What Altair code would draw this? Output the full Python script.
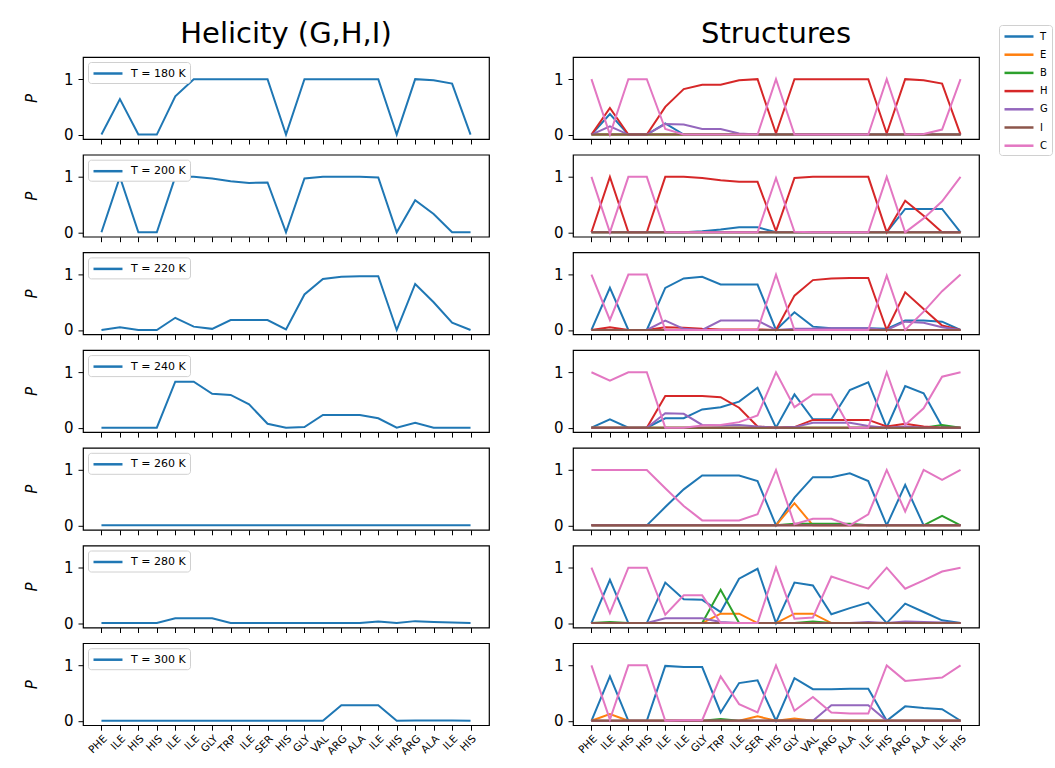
import altair as alt
import pandas as pd

residues = ["PHE", "ILE", "HIS", "HIS", "ILE", "ILE", "GLY", "TRP", "ILE", "SER", "HIS",
            "GLY", "VAL", "ARG", "ALA", "ILE", "HIS", "ARG", "ALA", "ILE", "HIS"]
temps = [180, 200, 220, 240, 260, 280, 300]
states = ["T", "E", "B", "H", "G", "I", "C"]
state_colors = ["#1f77b4", "#ff7f0e", "#2ca02c", "#d62728", "#9467bd", "#8c564b", "#e377c2"]

# Helicity (G+H+I) per residue, one list per temperature
hel_180 = [0, 0.64, 0, 0, 0.69, 1, 1, 1, 1, 1, 0, 1, 1, 1, 1, 1, 0, 1, 0.98, 0.92, 0]
hel_200 = [0, 1, 0, 0, 1, 1, 0.97, 0.92, 0.89, 0.9, 0, 0.97, 1, 1, 1, 0.99, 0, 0.58, 0.33, 0, 0]
hel_220 = [0, 0.05, 0, 0, 0.22, 0.06, 0.02, 0.18, 0.18, 0.18, 0.01, 0.64, 0.92, 0.96, 0.97, 0.97, 0, 0.83, 0.5, 0.13, 0]
hel_240 = [0, 0, 0, 0, 0.83, 0.83, 0.61, 0.59, 0.42, 0.07, 0, 0.01, 0.23, 0.23, 0.23, 0.17, 0, 0.09, 0, 0, 0]
hel_260 = [0, 0, 0, 0, 0, 0, 0, 0, 0, 0, 0, 0, 0, 0, 0, 0, 0, 0, 0, 0, 0]
hel_280 = [0, 0, 0, 0, 0.085, 0.085, 0.085, 0, 0, 0, 0, 0, 0, 0, 0, 0.03, 0, 0.035, 0.02, 0.01, 0]
hel_300 = [0, 0, 0, 0, 0, 0, 0, 0, 0, 0, 0, 0, 0, 0.28, 0.28, 0.28, 0, 0.005, 0.005, 0.005, 0]
helicity = [hel_180, hel_200, hel_220, hel_240, hel_260, hel_280, hel_300]

zero = [0, 0, 0, 0, 0, 0, 0, 0, 0, 0, 0, 0, 0, 0, 0, 0, 0, 0, 0, 0, 0]

# Secondary-structure probabilities per temperature
s180 = {
    "T": [0, 0.37, 0, 0, 0.2, 0, 0, 0, 0, 0, 0, 0, 0, 0, 0, 0, 0, 0, 0, 0, 0],
    "E": zero,
    "B": zero,
    "H": [0, 0.48, 0, 0, 0.5, 0.82, 0.9, 0.9, 0.98, 1, 0.02, 1, 1, 1, 1, 1, 0.02, 1, 0.98, 0.92, 0],
    "G": [0, 0.15, 0, 0, 0.19, 0.18, 0.1, 0.1, 0.02, 0, 0, 0, 0, 0, 0, 0, 0, 0, 0, 0, 0],
    "I": zero,
    "C": [1, 0, 1, 1, 0.1, 0, 0, 0, 0, 0, 1, 0, 0, 0, 0, 0, 1, 0, 0.01, 0.09, 1],
}
s200 = {
    "T": [0, 0, 0, 0, 0, 0, 0.02, 0.05, 0.09, 0.09, 0, 0, 0, 0, 0, 0, 0, 0.42, 0.42, 0.42, 0],
    "E": zero,
    "B": zero,
    "H": [0, 1, 0, 0, 1, 1, 0.98, 0.94, 0.91, 0.91, 0.02, 0.98, 1, 1, 1, 1, 0, 0.57, 0.3, 0, 0],
    "G": zero,
    "I": zero,
    "C": [1, 0, 1, 1, 0, 0, 0, 0, 0, 0, 0.98, 0.01, 0, 0, 0, 0, 1, 0, 0.25, 0.56, 1],
}
s220 = {
    "T": [0, 0.76, 0, 0, 0.76, 0.93, 0.96, 0.82, 0.82, 0.82, 0, 0.32, 0.06, 0.03, 0.03, 0.03, 0.02, 0.17, 0.17, 0.15, 0],
    "E": zero,
    "B": zero,
    "H": [0, 0.05, 0, 0, 0.05, 0.04, 0.02, 0.01, 0.01, 0.01, 0, 0.62, 0.9, 0.93, 0.94, 0.94, 0, 0.68, 0.38, 0.08, 0],
    "G": [0, 0, 0, 0, 0.17, 0.02, 0, 0.17, 0.17, 0.17, 0, 0.02, 0.02, 0.03, 0.03, 0.03, 0, 0.15, 0.13, 0.05, 0],
    "I": zero,
    "C": [1, 0.18, 1, 1, 0, 0, 0, 0, 0, 0, 1, 0, 0, 0, 0, 0, 0.98, 0, 0.33, 0.7, 1],
}
s240 = {
    "T": [0, 0.15, 0, 0, 0.17, 0.17, 0.33, 0.37, 0.47, 0.72, 0, 0.6, 0.15, 0.15, 0.68, 0.82, 0, 0.75, 0.62, 0.02, 0],
    "E": zero,
    "B": [0, 0, 0, 0, 0, 0, 0, 0, 0, 0, 0, 0, 0, 0, 0, 0, 0, 0, 0, 0.05, 0],
    "H": [0, 0, 0, 0, 0.57, 0.57, 0.57, 0.55, 0.36, 0.02, 0, 0.01, 0.14, 0.14, 0.14, 0.14, 0.02, 0.07, 0.02, 0, 0],
    "G": [0, 0, 0, 0, 0.26, 0.25, 0.05, 0.04, 0.05, 0.02, 0, 0.01, 0.09, 0.09, 0.09, 0.03, 0, 0.02, 0, 0, 0],
    "I": zero,
    "C": [1, 0.85, 1, 1, 0, 0, 0.04, 0.05, 0.1, 0.22, 1, 0.37, 0.6, 0.6, 0, 0, 1, 0.05, 0.35, 0.92, 1],
}
s260 = {
    "T": [0, 0, 0, 0, 0.33, 0.65, 0.9, 0.9, 0.9, 0.8, 0, 0.5, 0.87, 0.87, 0.94, 0.8, 0, 0.73, 0, 0, 0],
    "E": [0, 0, 0, 0, 0, 0, 0, 0, 0, 0, 0, 0.4, 0, 0, 0, 0, 0, 0, 0, 0, 0],
    "B": [0, 0, 0, 0, 0, 0, 0, 0, 0, 0, 0, 0.03, 0.03, 0.03, 0.03, 0, 0, 0, 0, 0.17, 0],
    "H": zero,
    "G": zero,
    "I": zero,
    "C": [1, 1, 1, 1, 0.67, 0.35, 0.09, 0.09, 0.09, 0.2, 1, 0.02, 0.12, 0.12, 0, 0.2, 1, 0.25, 1, 0.82, 1],
}
s280 = {
    "T": [0, 0.78, 0, 0, 0.73, 0.43, 0.42, 0.2, 0.8, 0.98, 0, 0.73, 0.68, 0.16, 0.27, 0.37, 0, 0.35, 0.2, 0.05, 0],
    "E": [0, 0, 0, 0, 0, 0, 0, 0.17, 0.17, 0, 0, 0.17, 0.17, 0, 0, 0, 0, 0, 0, 0, 0],
    "B": [0, 0.02, 0, 0, 0, 0, 0, 0.6, 0, 0, 0, 0, 0.03, 0, 0, 0, 0, 0, 0, 0, 0],
    "H": zero,
    "G": [0, 0, 0, 0, 0.085, 0.085, 0.085, 0.02, 0, 0, 0, 0, 0, 0, 0, 0.02, 0, 0.03, 0.02, 0.01, 0],
    "I": zero,
    "C": [1, 0.18, 1, 1, 0.15, 0.5, 0.5, 0, 0, 0, 1, 0.08, 0.1, 0.84, 0.73, 0.62, 1, 0.62, 0.77, 0.93, 1],
}
s300 = {
    "T": [0, 0.8, 0, 0, 0.99, 0.97, 0.97, 0.15, 0.68, 0.73, 0, 0.77, 0.57, 0.57, 0.58, 0.58, 0, 0.26, 0.23, 0.21, 0],
    "E": [0, 0.12, 0, 0, 0, 0, 0, 0, 0, 0.08, 0, 0.04, 0, 0, 0, 0, 0, 0, 0, 0, 0],
    "B": [0, 0, 0, 0, 0, 0, 0, 0.03, 0, 0, 0, 0, 0, 0, 0, 0, 0, 0, 0, 0, 0],
    "H": zero,
    "G": [0, 0, 0, 0, 0, 0, 0, 0, 0, 0, 0, 0, 0, 0.28, 0.28, 0.28, 0, 0, 0, 0, 0],
    "I": zero,
    "C": [1, 0.02, 1, 1, 0, 0.01, 0.01, 0.8, 0.3, 0.15, 1, 0.18, 0.43, 0.15, 0.13, 0.13, 1, 0.72, 0.75, 0.78, 1],
}
structures = [s180, s200, s220, s240, s260, s280, s300]

FONT = "DejaVu Sans"
W, H = 406, 82
TITLE_SIZE = 29
TICK_SIZE = 15

label_expr = "[" + ",".join(f"'{r}'" for r in residues) + "][datum.value]"
xscale = alt.Scale(domain=[-1, 21], nice=False, zero=False)
yscale = alt.Scale(domain=[-0.08, 1.4], nice=False, zero=False)


def x_axis(show):
    return alt.Axis(values=list(range(len(residues))), labels=show, labelExpr=label_expr,
                    labelAngle=-45, labelAlign="right", labelBaseline="top", labelFontSize=10.5,
                    labelOverlap=False, labelFlush=False, labelPadding=3, tickSize=5,
                    tickWidth=1, domain=False, grid=False, title=None)


def y_axis(title):
    kw = dict(values=[0, 1], format="d", labelFontSize=TICK_SIZE, tickSize=5, tickWidth=1,
              labelPadding=5, domain=False, grid=False)
    if title:
        kw.update(title=title, titleFontStyle="italic", titleFontWeight="normal",
                  titleFontSize=TICK_SIZE, titlePadding=24)
    else:
        kw.update(title=None)
    return alt.Axis(**kw)


def col_title(text):
    return alt.TitleParams(text, fontSize=TITLE_SIZE, fontWeight="normal", font=FONT,
                           anchor="middle", frame="group", offset=8, color="black")


left_panels = []
right_panels = []
for i, t in enumerate(temps):
    last = i == len(temps) - 1
    lab = f"T = {t} K"
    dl = pd.DataFrame({"x": list(range(len(residues))), "P": helicity[i], "label": lab})
    lp = alt.Chart(dl).mark_line(strokeWidth=2).encode(
        x=alt.X("x:Q", scale=xscale, axis=x_axis(last)),
        y=alt.Y("P:Q", scale=yscale, axis=y_axis("P")),
        color=alt.Color("label:N", scale=alt.Scale(domain=[lab], range=["#1f77b4"]),
                        legend=alt.Legend(orient="top-left", offset=5, title=None,
                                          symbolType="M-1,0H3.83", symbolSize=144,
                                          symbolStrokeWidth=2.5, labelFontSize=11,
                                          labelOffset=24, padding=4, strokeColor="#d0d0d0",
                                          fillColor="white", cornerRadius=3,
                                          labelFont=FONT)),
    ).properties(width=W, height=H)
    if i == 0:
        lp = lp.properties(title=col_title("Helicity (G,H,I)"))
    left_panels.append(lp)

    rows = []
    for s in states:
        for k, v in enumerate(structures[i][s]):
            rows.append({"x": k, "P": v, "state": s})
    dr = pd.DataFrame(rows)
    layers = []
    for s in states:
        layers.append(
            alt.Chart(dr).transform_filter(alt.datum.state == s).mark_line(strokeWidth=2).encode(
                x=alt.X("x:Q", scale=xscale, axis=x_axis(last)),
                y=alt.Y("P:Q", scale=yscale, axis=y_axis(None)),
                color=alt.Color("state:N", scale=alt.Scale(domain=states, range=state_colors),
                                legend=alt.Legend(orient="none", legendX=426, legendY=-32, title=None,
                                                  symbolType="M-1,0H3.83", symbolSize=144,
                                                  symbolStrokeWidth=2.5, labelFontSize=10,
                                                  labelOffset=22, rowPadding=5.2, padding=4,
                                                  strokeColor="#d0d0d0", fillColor="white",
                                                  cornerRadius=3, labelFont=FONT)),
            )
        )
    rp = alt.layer(*layers).properties(width=W, height=H)
    if i == 0:
        rp = rp.properties(title=col_title("Structures"))
    right_panels.append(rp)

left_col = alt.vconcat(*left_panels, spacing=7.7).resolve_scale(color="independent")
right_col = alt.vconcat(*right_panels, spacing=7.7).resolve_scale(color="shared")

chart = alt.hconcat(left_col, right_col, spacing=62).resolve_scale(
    color="independent"
).configure(
    font=FONT, padding={"left": 23, "top": 19, "right": 2, "bottom": 2}, background="white"
).configure_view(
    stroke="black", strokeWidth=1.2
).configure_axis(
    labelColor="black", tickColor="black", titleColor="black", labelFont=FONT, titleFont=FONT
)

chart.save("out.html", embed_options={"renderer": "svg", "actions": False})
